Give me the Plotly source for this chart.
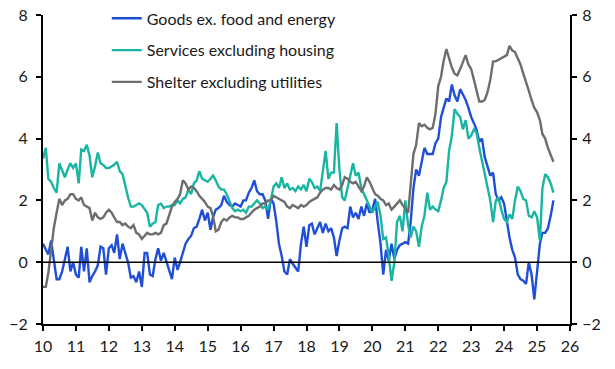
import pandas as pd
import plotly.graph_objects as go

# ---- data (monthly, Jan 2010 - Jul 2025), % y/y ----
goods = [
    0.6, 0.4, 0.25, 0.7, 0.1, -0.55, -0.55, -0.3, 0.1, 0.5, -0.3, 0.0,
    -0.4, -0.5, 0.5, -0.3, 0.45, -0.65, -0.45, -0.3, -0.1, 0.5, 0.45, -0.4,
    0.45, 0.55, 0.3, 0.9, 0.1, 0.6, 0.3, 0.0, -0.5, -0.45, -0.65, -0.3,
    -0.8, 0.3, 0.3, -0.4, -0.45, 0.1, 0.45, 0.05, 0.3, 0.0, -0.3, -0.55,
    0.15, -0.25, 0.0, 0.35, 0.6, 0.75, 0.85, 1.1, 1.15, 1.4, 1.7, 1.35,
    1.6, 1.05, 1.45, 1.7, 1.75, 1.85, 2.15, 1.95, 1.85, 1.8, 1.9, 1.85,
    1.8, 2.0, 2.0, 2.25, 2.4, 2.65, 2.3, 2.2, 2.2, 2.0, 1.4, 2.05,
    1.9, 1.3, 0.6, 0.2, -0.3, -0.4, 0.1, -0.05, -0.2, -0.3, 0.6, 1.15,
    0.5, 1.2, 1.25, 0.9, 1.1, 1.3, 0.95, 1.25, 1.0, 1.1, 0.8, 0.2,
    0.7, 1.1, 1.15, 1.1, 1.8, 1.45, 1.6, 1.4, 1.8, 1.5, 1.9, 1.6,
    1.7, 2.05, 1.3, 0.6, -0.4, 0.4, 0.05, 0.6, 0.1, 0.4, 0.55, 0.6,
    0.65, 0.6, 1.3, 2.4, 3.0, 2.8, 3.3, 3.7, 3.5, 3.5, 3.5, 3.85,
    4.0, 4.7, 5.0, 5.3, 5.2, 5.75, 5.4, 5.2, 5.6, 5.45, 5.25, 5.0,
    4.7, 4.5, 4.3, 3.9, 4.0, 3.4, 3.1, 2.8, 2.9, 2.2, 2.0, 2.1,
    1.9, 1.3, 0.8, 0.4, 0.15, -0.4, -0.55, -0.6, -0.7, 0.0, -0.4, -1.2,
    -0.2, 0.6, 0.95, 0.95, 1.1, 1.5, 2.0,
]

services = [
    3.35, 3.7, 2.7, 2.6, 2.4, 2.25, 3.2, 2.95, 2.75, 3.0, 3.2, 3.05,
    3.2, 2.55, 3.65, 3.6, 3.8, 3.45, 2.75, 3.1, 3.55, 3.2, 3.15, 3.05,
    3.05, 3.1, 3.15, 3.25, 2.95, 2.85, 2.45, 2.1, 1.8, 1.8, 1.85, 1.9,
    1.85, 1.7, 1.6, 1.15, 1.25, 1.3, 1.85, 1.9, 1.75, 1.8, 1.8, 1.85,
    1.85, 2.0, 1.9, 2.05, 2.1, 2.35, 2.2, 2.55, 2.65, 2.95, 2.7, 2.65,
    2.6, 2.7, 2.8, 2.65, 2.45, 2.35, 2.35, 2.2, 1.95, 1.75, 1.65, 1.7,
    1.65, 1.7, 1.6, 1.8, 1.8, 1.9, 2.0, 1.9, 1.75, 1.8, 1.7, 2.0,
    2.45, 2.55, 2.4, 2.75, 2.4, 2.55, 2.35, 2.4, 2.3, 2.45, 2.35, 2.5,
    2.3, 2.7, 2.6, 2.4, 2.45, 2.3, 2.9, 3.6, 2.7, 2.9, 2.9, 4.5,
    3.0, 2.1, 2.0, 2.4, 2.75, 3.2, 2.8, 2.9, 2.4, 2.2, 2.0, 1.75,
    1.6, 1.8, 1.95, 1.5, 0.75, 0.8, 0.2, -0.6, 0.0, 1.3, 1.5, 1.0,
    2.0, 1.2, 0.8, 1.15, 1.0, 0.5, 1.15, 1.5, 2.25, 1.7, 1.8, 1.7,
    1.65, 2.0, 2.4, 2.6, 3.6, 4.1, 4.95, 4.8, 4.7, 4.3, 4.6, 4.0,
    4.1, 4.3, 4.2, 3.7, 3.3, 2.9, 2.4, 2.0, 1.3, 2.0, 2.1, 1.7,
    1.4, 1.3, 1.55, 1.4, 2.0, 2.45, 2.3, 2.05, 2.0, 1.5, 1.45, 1.65,
    1.45, 0.7, 2.4, 2.85, 2.75, 2.55, 2.25,
]

shelter = [
    -0.8, -0.8, -0.35, 0.5, 1.1, 1.6, 2.05, 1.85, 2.0, 2.05, 2.2, 2.2,
    2.05, 2.0, 2.1, 1.85, 1.8, 1.75, 1.35, 1.6, 1.45, 1.4, 1.45, 1.6,
    1.7, 1.6, 1.45, 1.3, 1.3, 1.2, 1.25, 1.15, 1.1, 1.2, 0.95, 0.9,
    0.75, 0.85, 0.95, 0.9, 0.9, 0.95, 0.9, 0.95, 1.2, 1.25, 1.5, 1.8,
    1.95, 2.05, 2.2, 2.65, 2.55, 2.35, 2.45, 2.4, 2.3, 2.15, 2.05, 1.95,
    1.8, 1.75, 1.5, 1.0, 1.05, 1.3, 1.4, 1.35, 1.45, 1.5, 1.45, 1.45,
    1.4, 1.4, 1.45, 1.5, 1.6, 1.7, 1.75, 1.8, 1.9, 1.9, 2.0, 2.0,
    2.15, 2.1, 2.05, 2.0, 1.95, 1.8, 1.75, 1.85, 1.8, 1.75, 1.85, 1.8,
    1.85, 1.95, 2.0, 2.05, 2.1, 2.25, 2.35, 2.4, 2.4, 2.35, 2.5, 2.4,
    2.35, 2.5, 2.75, 2.7, 2.6, 2.55, 2.6, 2.45, 2.3, 2.45, 2.75, 2.6,
    2.4, 2.2, 2.15, 2.05, 2.0, 1.85, 1.9, 1.7, 1.8, 1.9, 2.0, 1.85,
    1.75, 1.6, 2.5, 3.5, 3.8, 4.5, 4.4, 4.45, 4.35, 4.3, 4.35, 4.8,
    5.7, 6.0, 6.5, 6.9, 6.6, 6.3, 6.1, 6.05, 6.25, 6.5, 6.7, 6.4,
    6.25, 5.9, 5.6, 5.2, 5.2, 5.25, 5.5, 5.9, 6.5, 6.5, 6.55, 6.6,
    6.65, 6.7, 7.0, 6.85, 6.8, 6.6, 6.4, 6.1, 5.85, 5.55, 5.25, 5.0,
    4.85, 4.6, 4.15, 4.0, 3.7, 3.45, 3.25,
]

series_names = ["Goods ex. food and energy", "Services excluding housing",
                "Shelter excluding utilities"]
series_colors = ["#1f4fd6", "#19b5a2", "#6d6d6d"]

y_ticks = [-2, 0, 2, 4, 6, 8]

dates = pd.date_range("2010-01-01", periods=len(goods), freq="MS")

FONT = "Lato"
TXT = "#1a1a1a"

fig = go.Figure()
for i, (name, vals, col) in enumerate(zip(series_names, [goods, services, shelter], series_colors)):
    fig.add_trace(go.Scatter(x=dates, y=vals, mode="lines", name=name,
                             legendgroup=f"g{i}",
                             line=dict(color=col, width=2.4)))

# invisible trace to activate the right-hand axis
fig.add_trace(go.Scatter(x=dates, y=shelter, yaxis="y2", mode="lines",
                         line=dict(width=0), opacity=0, showlegend=False,
                         hoverinfo="skip"))

yax = dict(range=[-2, 8], tickvals=y_ticks, ticks="outside", ticklen=5,
           tickwidth=2, tickcolor="black", showline=True, linecolor="black",
           linewidth=2, showgrid=False, zeroline=False, automargin=False,
           tickfont=dict(family=FONT, size=16, color=TXT),
           ticklabeloverflow="allow", fixedrange=True)

fig.update_layout(
    width=615, height=369,
    margin=dict(l=43, r=45, t=15, b=45, autoexpand=False),
    paper_bgcolor="white", plot_bgcolor="white",
    font=dict(family=FONT, size=16, color=TXT),
    xaxis=dict(range=["2010-01-01", "2026-01-01"], type="date",
               tick0="2010-01-01", dtick="M12", tickformat="%y",
               ticks="outside", ticklen=5, tickwidth=2, tickcolor="black",
               showline=True, linecolor="black", linewidth=2,
               showgrid=False, zeroline=False, automargin=False,
               ticklabeloverflow="allow", ticklabelstandoff=2,
               tickfont=dict(family=FONT, size=16, color=TXT)),
    yaxis=dict(**yax, side="left", ticklabelstandoff=5),
    yaxis2=dict(**yax, side="right", overlaying="y", ticklabelstandoff=2),
    legend=dict(x=0.121, y=1.044, xanchor="left", yanchor="top",
                bgcolor="rgba(0,0,0,0)", tracegroupgap=8,
                font=dict(family=FONT, size=16, color=TXT)),
    showlegend=True,
)

fig.add_hline(y=0, line=dict(color="black", width=1.6), layer="above")

# remove the default 8px page margin so the figure fills the window exactly
fig.write_html("out.html", config={"displayModeBar": False},
               post_script="document.body.style.margin='0';")
